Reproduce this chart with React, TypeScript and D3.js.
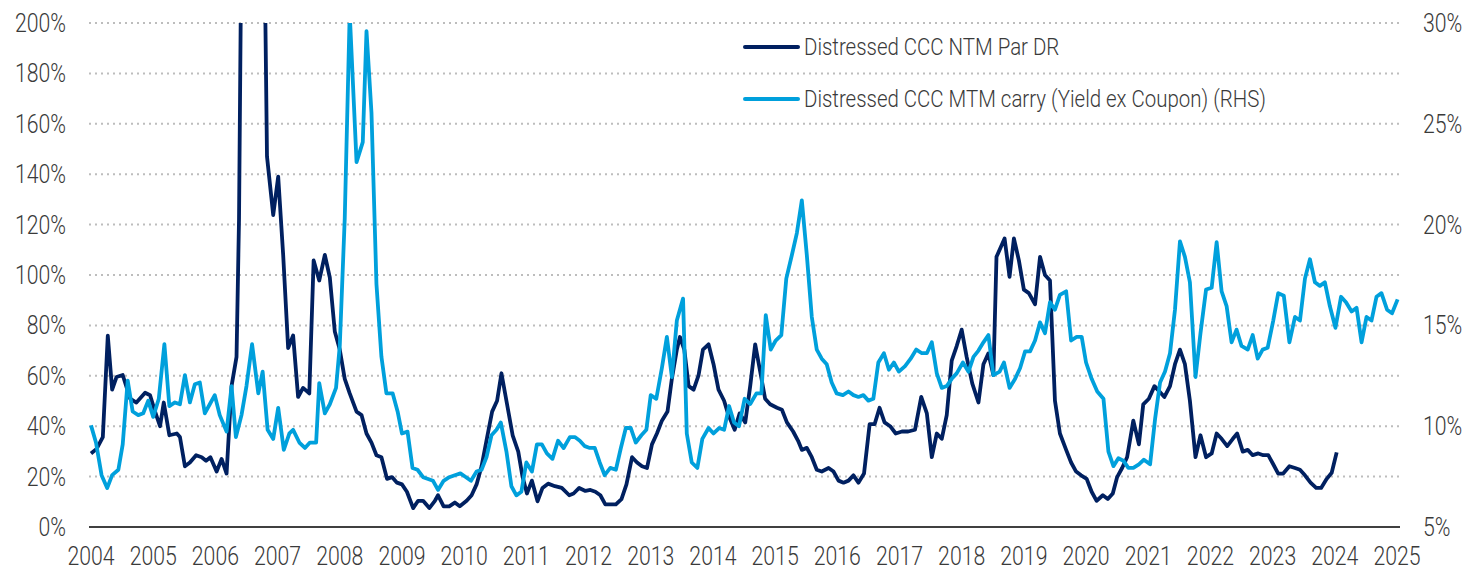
import * as d3 from "d3";

// Distressed CCC NTM Par DR (left axis, %)
const PAR_X = [
  2004.0, 2004.09, 2004.19, 2004.27, 2004.34, 2004.41, 2004.51, 2004.63, 2004.73, 2004.87, 2004.95,
  2005.03, 2005.11, 2005.17, 2005.26, 2005.38, 2005.43, 2005.51, 2005.59, 2005.69, 2005.78, 2005.85, 2005.92,
  2006.02, 2006.1, 2006.18, 2006.26, 2006.34, 2006.38, 2006.41, 2006.47, 2006.58, 2006.7, 2006.79, 2006.83, 2006.93,
  2007.01, 2007.09, 2007.17, 2007.25, 2007.33, 2007.41, 2007.51, 2007.58, 2007.67, 2007.76, 2007.84, 2007.92,
  2008.0, 2008.08, 2008.16, 2008.27, 2008.35, 2008.43, 2008.51, 2008.59, 2008.67, 2008.76, 2008.84, 2008.92,
  2009.0, 2009.08, 2009.18, 2009.26, 2009.34, 2009.44, 2009.53, 2009.58, 2009.67, 2009.76, 2009.85, 2009.93,
  2010.04, 2010.12, 2010.2, 2010.28, 2010.37, 2010.45, 2010.53, 2010.6, 2010.69, 2010.78, 2010.87, 2010.94,
  2011.01, 2011.09, 2011.18, 2011.26, 2011.35, 2011.46, 2011.57, 2011.69, 2011.76, 2011.85, 2011.95,
  2012.03, 2012.11, 2012.19, 2012.27, 2012.35, 2012.44, 2012.53, 2012.61, 2012.7, 2012.78, 2012.86, 2012.94,
  2013.02, 2013.1, 2013.18, 2013.27, 2013.34, 2013.42, 2013.47, 2013.54, 2013.61, 2013.69, 2013.77, 2013.84, 2013.93,
  2014.01, 2014.09, 2014.18, 2014.25, 2014.35, 2014.43, 2014.52, 2014.6, 2014.68, 2014.76, 2014.84, 2014.92,
  2015.03, 2015.11, 2015.19, 2015.29, 2015.37, 2015.43, 2015.51, 2015.59, 2015.67, 2015.75, 2015.86, 2015.94,
  2016.02, 2016.1, 2016.18, 2016.26, 2016.34, 2016.43, 2016.52, 2016.6, 2016.68, 2016.76, 2016.85, 2016.94,
  2017.04, 2017.14, 2017.25, 2017.35, 2017.44, 2017.52, 2017.6, 2017.68, 2017.76, 2017.84, 2017.92,
  2018.0, 2018.08, 2018.17, 2018.27, 2018.35, 2018.43, 2018.51, 2018.56, 2018.69, 2018.77, 2018.84, 2018.92,
  2019.0, 2019.08, 2019.18, 2019.26, 2019.34, 2019.42, 2019.5, 2019.58, 2019.68, 2019.76, 2019.84, 2019.92,
  2020.01, 2020.09, 2020.17, 2020.27, 2020.35, 2020.43, 2020.5, 2020.58, 2020.66, 2020.76, 2020.85, 2020.92,
  2021.01, 2021.1, 2021.18, 2021.26, 2021.35, 2021.43, 2021.51, 2021.59, 2021.67, 2021.76, 2021.84, 2021.93,
  2022.02, 2022.1, 2022.18, 2022.27, 2022.36, 2022.43, 2022.52, 2022.6, 2022.68, 2022.77, 2022.85, 2022.93,
  2023.01, 2023.09, 2023.17, 2023.27, 2023.36, 2023.44, 2023.52, 2023.61, 2023.7, 2023.78, 2023.87, 2023.95,
  2024.03,
];
const PAR_Y = [
  29.2, 31, 35.7, 75.9, 54.5, 59.5, 60.3, 50.9, 49.4, 53.3, 52.3,
  45.8, 40, 49.4, 36.4, 37.1, 35.7, 24.1, 25.6, 28.5, 27.7, 26.3, 27.7,
  22, 27, 21.2, 55.9, 67.5, 122, 210, 280, 330, 300, 230, 147, 123.8,
  139, 108, 71, 76, 51.6, 55.2, 53, 105.8, 97.8, 108, 99, 77.6,
  70.4, 58.8, 53, 45.8, 44.4, 37.1, 33.5, 28.5, 27.7, 19.1, 19.8, 17.6,
  16.9, 14, 7.5, 10.4, 10.4, 7.5, 10.4, 12.6, 8.2, 8.2, 9.7, 8.2,
  10.4, 12.6, 16.9, 24.1, 35.7, 45.8, 50.1, 61, 48.7, 36.4, 29.9, 19.8,
  13.3, 18.4, 10.2, 15.5, 17.2, 16.2, 15.5, 12.6, 13.3, 15.5, 14.3,
  14.7, 14, 12.6, 9, 9, 9, 11.1, 16.9, 27.7, 25.6, 24.1, 23.4,
  32.8, 37.1, 42.2, 45.8, 58.8, 70.4, 75.4, 70.4, 55.9, 54.5, 60.3, 70.4, 72.5,
  64.6, 54.5, 50.1, 44.4, 38.6, 45.1, 41.5, 56, 72.5, 61.7, 50.9, 48.7,
  47.3, 46.5, 41.5, 37.9, 34.2, 30.6, 31.4, 27.7, 22.7, 22, 23.4, 22,
  18.4, 17.6, 18.4, 20.5, 17.6, 21.2, 40.8, 40.8, 47.3, 41.5, 40, 37.1,
  37.9, 37.9, 38.6, 51.6, 45.1, 27.7, 37.1, 35, 44.4, 66, 71.8,
  78.3, 67.5, 57, 49.4, 64.6, 68.9, 60.3, 107.2, 114.5, 99.3, 114.5, 105.8,
  94.2, 92.8, 88.4, 107.2, 100, 97.8, 50.1, 37.1, 30.6, 25.6, 22, 20.5,
  19.1, 14, 10.4, 12.6, 11.1, 13.3, 19.8, 23.4, 27.7, 42.2, 32.8, 48.7,
  50.9, 55.9, 53.8, 51.6, 55.9, 64.6, 70.4, 64.6, 50.1, 27.7, 36.4, 27.7,
  29.2, 37.1, 35, 32.1, 35, 37.1, 29.9, 30.6, 28.5, 29.2, 28.5, 28.5,
  24.9, 21.2, 21.2, 24.1, 23.4, 22.7, 20.5, 17.6, 15.5, 15.5, 19.1, 21.5,
  29.6,
];

// Distressed CCC MTM carry (Yield ex Coupon) (right axis, %)
const CARRY_X = [
  2004.0, 2004.08, 2004.17, 2004.26, 2004.34, 2004.44, 2004.51, 2004.59, 2004.67, 2004.76, 2004.84, 2004.92,
  2005.0, 2005.09, 2005.18, 2005.26, 2005.35, 2005.43, 2005.51, 2005.59, 2005.67, 2005.75, 2005.83, 2005.91, 2005.99,
  2006.07, 2006.18, 2006.26, 2006.33, 2006.42, 2006.5, 2006.59, 2006.69, 2006.76, 2006.84, 2006.93,
  2007.01, 2007.1, 2007.19, 2007.25, 2007.35, 2007.44, 2007.52, 2007.62, 2007.67, 2007.76, 2007.84, 2007.94,
  2008.0, 2008.08, 2008.16, 2008.27, 2008.37, 2008.43, 2008.51, 2008.59, 2008.67, 2008.75, 2008.85, 2008.93,
  2009.0, 2009.09, 2009.17, 2009.25, 2009.34, 2009.42, 2009.5, 2009.58, 2009.67, 2009.76, 2009.85, 2009.94,
  2010.03, 2010.11, 2010.2, 2010.28, 2010.36, 2010.44, 2010.52, 2010.59, 2010.68, 2010.76, 2010.84, 2010.92,
  2011.0, 2011.09, 2011.17, 2011.25, 2011.33, 2011.42, 2011.51, 2011.6, 2011.7, 2011.78, 2011.86, 2011.94,
  2012.02, 2012.1, 2012.18, 2012.26, 2012.35, 2012.44, 2012.52, 2012.6, 2012.68, 2012.76, 2012.85, 2012.93,
  2013.0, 2013.09, 2013.18, 2013.26, 2013.34, 2013.42, 2013.52, 2013.58, 2013.66, 2013.75, 2013.83, 2013.93,
  2014.01, 2014.1, 2014.18, 2014.26, 2014.34, 2014.42, 2014.51, 2014.6, 2014.7, 2014.78, 2014.85, 2014.93,
  2015.01, 2015.1, 2015.18, 2015.27, 2015.35, 2015.43, 2015.51, 2015.59, 2015.67, 2015.75, 2015.83, 2015.91, 2015.99,
  2016.09, 2016.18, 2016.26, 2016.34, 2016.42, 2016.5, 2016.58, 2016.66, 2016.75, 2016.83, 2016.91, 2016.99,
  2017.09, 2017.18, 2017.27, 2017.36, 2017.44, 2017.52, 2017.6, 2017.68, 2017.76, 2017.84, 2017.92,
  2018.02, 2018.11, 2018.19, 2018.27, 2018.35, 2018.43, 2018.51, 2018.61, 2018.68, 2018.77, 2018.86, 2018.94,
  2019.02, 2019.1, 2019.18, 2019.26, 2019.34, 2019.42, 2019.5, 2019.58, 2019.68, 2019.76, 2019.85, 2019.93,
  2020.0, 2020.09, 2020.18, 2020.28, 2020.36, 2020.44, 2020.52, 2020.6, 2020.68, 2020.76, 2020.85, 2020.93,
  2021.03, 2021.11, 2021.19, 2021.27, 2021.35, 2021.43, 2021.51, 2021.59, 2021.67, 2021.76, 2021.84, 2021.93,
  2022.02, 2022.1, 2022.18, 2022.26, 2022.34, 2022.42, 2022.5, 2022.6, 2022.68, 2022.76, 2022.84, 2022.92,
  2023.01, 2023.09, 2023.18, 2023.27, 2023.36, 2023.44, 2023.52, 2023.6, 2023.68, 2023.76, 2023.84, 2023.92,
  2024.01, 2024.1, 2024.18, 2024.27, 2024.35, 2024.43, 2024.51, 2024.59, 2024.67, 2024.75, 2024.84, 2024.92,
  2025.01,
];
const CARRY_Y = [
  10.04, 9.19, 7.57, 6.93, 7.57, 7.84, 9.1, 12.26, 10.73, 10.55, 10.64, 11.27,
  10.46, 11.36, 14.07, 11.0, 11.18, 11.09, 12.53, 11.18, 12.08, 12.17, 10.64, 11.09, 11.54,
  10.55, 9.73, 11.99, 9.46, 10.55, 11.99, 14.07, 11.63, 12.71, 9.82, 9.37,
  10.91, 8.83, 9.64, 9.82, 9.19, 8.92, 9.19, 9.19, 12.14, 10.64, 11.09, 11.9,
  13.98, 20.3, 30.5, 23.1, 24.09, 29.6, 25.54, 17.05, 13.44, 11.63, 11.63, 10.73,
  9.64, 9.73, 7.93, 7.84, 7.47, 7.38, 7.29, 6.84, 7.29, 7.47, 7.57, 7.66,
  7.47, 7.29, 7.75, 7.84, 8.47, 9.55, 9.82, 10.18, 8.74, 7.02, 6.57, 6.75,
  8.2, 7.75, 9.1, 9.1, 8.65, 8.38, 9.28, 8.92, 9.46, 9.46, 9.28, 9.01,
  8.92, 8.92, 8.2, 7.57, 7.93, 7.84, 8.92, 9.91, 9.91, 9.19, 9.55, 9.82,
  11.54, 11.36, 12.89, 14.43, 12.44, 15.24, 16.33, 9.64, 8.2, 7.93, 9.37, 9.91,
  9.64, 9.91, 9.82, 11.0, 10.18, 10.0, 11.36, 11.1, 11.63, 11.63, 15.51, 13.8,
  14.25, 14.52, 17.32, 18.49, 19.58, 21.2, 18.49, 15.42, 13.8, 13.35, 13.07, 12.17, 11.63,
  11.54, 11.72, 11.54, 11.45, 11.54, 11.27, 11.36, 13.16, 13.62, 12.8, 13.16, 12.71,
  12.98, 13.35, 13.8, 13.62, 13.62, 14.16, 12.62, 11.9, 11.99, 12.35, 12.62,
  13.16, 12.7, 13.44, 13.75, 14.16, 14.52, 12.53, 12.71, 13.16, 11.9, 12.35, 12.89,
  13.71, 13.71, 14.25, 15.15, 14.61, 16.15, 15.78, 16.51, 16.69, 14.25, 14.43, 14.43,
  13.16, 12.35, 11.72, 11.36, 8.74, 8.02, 8.41, 8.29, 7.93, 7.93, 8.11, 8.34,
  8.11, 10.36, 12.17, 12.71, 13.62, 15.78, 19.17, 18.4, 17.14, 12.44, 14.61, 16.78,
  16.87, 19.13, 16.69, 15.96, 14.16, 14.79, 13.98, 13.8, 14.52, 13.35, 13.8, 13.89,
  15.24, 16.6, 16.47, 14.16, 15.42, 15.24, 17.32, 18.28, 17.14, 16.96, 17.14, 15.96,
  14.88, 16.42, 16.15, 15.69, 15.87, 14.16, 15.42, 15.24, 16.42, 16.6, 15.78, 15.6,
  16.29,
];

const YEARS = d3.range(2004, 2026);
const LEFT_TICKS = d3.range(0, 201, 20);
const RIGHT_TICKS = [5, 10, 15, 20, 25, 30];
const SERIES_NAMES = ["Distressed CCC NTM Par DR", "Distressed CCC MTM carry (Yield ex Coupon) (RHS)"];

const W = 1484;
const H = 570;
const DARK = "#002060";
const LIGHT = "#00a0dc";
const FONT = "Roboto, 'Open Sans', sans-serif";
const TEXT = "#3a3a3a";

// condensed-looking label: normal font squeezed horizontally
function Label(props: { x: number; y: number; anchor?: string; size: number; sx: number; dy?: string; children: any }) {
  const { x, y, anchor = "start", size, sx, dy = "0", children } = props;
  return (
    <g transform={`translate(${x},${y}) scale(${sx},1)`}>
      <text x={0} y={0} dy={dy} textAnchor={anchor} fontSize={size} fontWeight={300} fill={TEXT}>
        {children}
      </text>
    </g>
  );
}

export default function App() {
  const x = d3.scaleLinear().domain([2004, 2025]).range([91, 1397]);
  const yL = d3.scaleLinear().domain([0, 200]).range([527, 23]);
  const yR = d3.scaleLinear().domain([5, 30]).range([527, 23]);

  const par = PAR_X.map((d, i) => [d, PAR_Y[i]] as [number, number]);
  const carry = CARRY_X.map((d, i) => [d, CARRY_Y[i]] as [number, number]);

  const lineL = d3.line<[number, number]>().x((d) => x(d[0])).y((d) => yL(d[1]));
  const lineR = d3.line<[number, number]>().x((d) => x(d[0])).y((d) => yR(d[1]));

  const gx0 = 89;
  const gx1 = 1400;

  return (
    <svg width={W} height={H} style={{ position: "absolute", left: 0, top: 0, background: "#fff" }} fontFamily={FONT}>
      <defs>
        <clipPath id="plot">
          <rect x={gx0 - 2} y={yL(200)} width={gx1 - gx0 + 6} height={H} />
        </clipPath>
      </defs>

      {/* dotted grid */}
      {LEFT_TICKS.filter((t) => t > 0).map((t) => (
        <line key={t} x1={gx0} x2={gx1} y1={yL(t)} y2={yL(t)} stroke="#bdbdbd" strokeWidth={2} strokeDasharray="2 4" />
      ))}
      <line x1={gx0} x2={gx1} y1={yL(0)} y2={yL(0)} stroke="#404040" strokeWidth={2} />

      {/* left axis */}
      {LEFT_TICKS.map((t) => (
        <Label key={t} x={66} y={yL(t)} dy="0.36em" anchor="end" size={25} sx={0.85}>
          {t}%
        </Label>
      ))}
      {/* right axis */}
      {RIGHT_TICKS.map((t) => (
        <Label key={t} x={1423} y={yR(t)} dy="0.36em" size={25} sx={0.85}>
          {t}%
        </Label>
      ))}
      {/* x axis */}
      {YEARS.map((yr) => (
        <Label key={yr} x={x(yr)} y={565} anchor="middle" size={25} sx={0.85}>
          {yr}
        </Label>
      ))}

      <g clipPath="url(#plot)" fill="none" strokeWidth={3.8} strokeLinejoin="round">
        <path d={lineL(par) ?? ""} stroke={DARK} />
        <path d={lineR(carry) ?? ""} stroke={LIGHT} />
      </g>

      {/* legend */}
      {SERIES_NAMES.map((name, i) => (
        <g key={name} transform={`translate(0,${47 + i * 52})`}>
          <line x1={745} x2={798} y1={0} y2={0} stroke={i === 0 ? DARK : LIGHT} strokeWidth={4} strokeLinecap="round" />
          <Label x={804} y={0} dy="0.36em" size={23.5} sx={0.87}>
            {name}
          </Label>
        </g>
      ))}
    </svg>
  );
}
